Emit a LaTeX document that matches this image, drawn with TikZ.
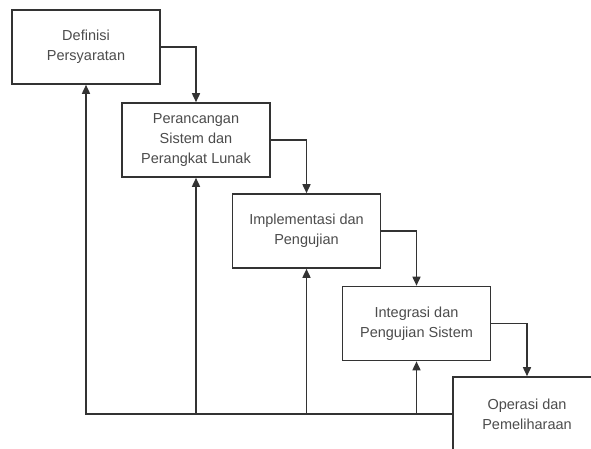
\documentclass[tikz,border=0pt]{standalone}
\usepackage{fontspec}
\setmainfont{Liberation Sans}
\usetikzlibrary{arrows.meta}
\begin{document}
\begin{tikzpicture}[x=1pt,y=-1pt,
  phase/.style={draw=black!80, line width=1.6pt, fill=white,
    minimum width=148pt, minimum height=74pt, inner sep=2pt,
    align=center, text=black!70,
    font=\fontsize{14.5}{20}\selectfont},
  flow/.style={draw=black!80, line width=1.6pt,
    -{Triangle[length=9pt,width=8pt]}}]
\useasboundingbox (0,0) rectangle (591,448);
\clip (0,0) rectangle (591,448);
\fill[white] (0,0) rectangle (591,448);

\node[phase] (b1) at (86,47)    {Definisi\\Persyaratan};
\node[phase] (b2) at (196,140)  {Perancangan\\Sistem dan\\Perangkat Lunak};
\node[phase] (b3) at (306.5,231){Implementasi dan\\Pengujian};
\node[phase] (b4) at (416.5,323.5){Integrasi dan\\Pengujian Sistem};
\node[phase] (b5) at (527,414)  {Operasi dan\\Pemeliharaan};

% forward flow down the cascade
\draw[flow] (b1.east) -| (b2.north);
\draw[flow] (b2.east) -| (b3.north);
\draw[flow] (b3.east) -| (b4.north);
\draw[flow] (b4.east) -| (b5.north);

% feedback lines back to earlier phases
\draw[flow] (b5.west) -| (b1.south);
\draw[flow] (b2.south |- b5.west) -- (b2.south);
\draw[flow] (b3.south |- b5.west) -- (b3.south);
\draw[flow] (b4.south |- b5.west) -- (b4.south);
\end{tikzpicture}
\end{document}
